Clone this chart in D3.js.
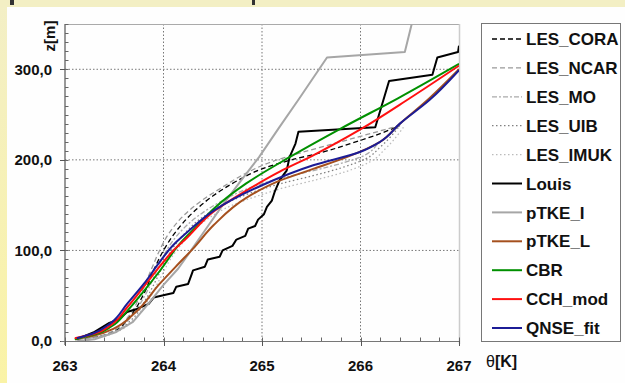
<!DOCTYPE html>
<html><head><meta charset="utf-8">
<script src="https://cdn.jsdelivr.net/npm/d3@7"></script>
<style>body{margin:0;padding:0;background:#fff;}svg{display:block;}</style>
</head><body>
<svg id="c" width="625" height="383"></svg>
<script>
// ---- data ----
const xTicks = [263, 264, 265, 266, 267];
const yTicks = [0, 100, 200, 300];
const yTickLabels = ["0,0", "100,0", "200,0", "300,0"];
const seriesNames = ["LES_CORA","LES_NCAR","LES_MO","LES_UIB","LES_IMUK","Louis","pTKE_I","pTKE_L","CBR","CCH_mod","QNSE_fit"];

// [theta K, z m]
const LES_CORA = [[263.12,1],[263.3,4],[263.5,11],[263.65,26],[263.8,52],[263.9,78],[264.0,100],[264.12,120],[264.3,142],[264.5,160],[264.75,177],[265.0,190],[265.3,200],[265.6,208],[265.9,218],[266.2,229],[266.4,238]];
const LES_NCAR = [[263.12,1],[263.3,4],[263.5,12],[263.65,28],[263.78,55],[263.88,80],[263.96,100],[264.05,118],[264.2,138],[264.4,156],[264.6,170],[264.85,186],[265.1,198],[265.4,208],[265.7,217],[266.0,226],[266.2,232],[266.4,238]];
const LES_MO = [[263.12,1],[263.3,4],[263.5,10],[263.65,24],[263.8,48],[263.92,75],[264.02,98],[264.15,118],[264.35,138],[264.6,155],[264.85,168],[265.1,177],[265.4,185],[265.7,193],[266.0,203],[266.2,220],[266.4,238]];
const LES_UIB = [[263.12,1],[263.3,4],[263.5,10],[263.67,23],[263.82,46],[263.95,73],[264.05,95],[264.2,117],[264.4,137],[264.65,153],[264.9,164],[265.2,174],[265.5,182],[265.8,191],[266.05,201],[266.2,214],[266.4,238]];
const LES_IMUK = [[263.12,1],[263.3,3],[263.5,9],[263.68,22],[263.84,44],[263.97,70],[264.08,92],[264.25,115],[264.45,135],[264.7,150],[264.95,160],[265.25,170],[265.55,178],[265.85,187],[266.1,198],[266.25,212],[266.45,238]];
const Louis = [[263.12,2],[263.3,10],[263.45,20],[263.55,24],[263.63,32],[263.72,35],[263.85,41],[263.9,48],[264.02,51],[264.1,53],[264.13,60],[264.25,63],[264.28,72],[264.3,78],[264.42,82],[264.45,90],[264.57,93],[264.6,100],[264.7,105],[264.74,112],[264.83,116],[264.86,124],[264.93,127],[264.96,134],[265.02,140],[265.05,148],[265.1,155],[265.13,165],[265.18,178],[265.25,188],[265.28,203],[265.34,218],[265.37,231],[266.15,236],[266.29,287],[266.73,294],[266.78,313],[266.99,319],[267.0,326]];
const pTKE_I = [[263.15,0],[263.3,2],[263.52,10],[263.69,21],[263.86,43],[264.0,62],[264.15,80],[264.28,100],[264.42,122],[264.6,150],[264.8,179],[264.97,203],[265.17,235],[265.38,268],[265.66,313],[266.45,319],[266.52,350]];
const pTKE_L = [[263.1,2],[263.3,6],[263.5,14],[263.7,30],[263.96,63],[264.15,85],[264.3,102],[264.51,128],[264.84,158],[265.18,177],[265.52,190],[265.86,203],[266.2,220],[266.38,238],[266.7,268],[267.0,300]];
const CBR = [[263.1,2],[263.3,7],[263.47,16],[263.63,33],[263.8,55],[263.96,77],[264.17,108],[264.35,128],[264.51,146],[264.84,174],[265.28,203],[265.79,234],[266.38,268],[267.0,306]];
const CCH_mod = [[263.1,3],[263.3,8],[263.47,18],[263.63,37],[263.8,60],[263.96,82],[264.1,100],[264.22,112],[264.51,143],[264.84,166],[265.18,187],[265.52,205],[265.99,233],[266.5,268],[267.0,304]];
const QNSE_fit = [[263.12,3],[263.29,8.5],[263.46,19.5],[263.63,41],[263.8,63],[263.96,87],[264.1,106],[264.24,120],[264.51,144],[265.0,172],[265.52,194],[266.0,209],[266.2,220],[266.4,240],[266.7,266],[267.0,299]];

const seriesData = [LES_CORA, LES_NCAR, LES_MO, LES_UIB, LES_IMUK, Louis, pTKE_I, pTKE_L, CBR, CCH_mod, QNSE_fit];

// ---- styles ----
const styles = {
  LES_CORA:{c:"#000",w:1.3,d:"5,3",curve:true},
  LES_NCAR:{c:"#999",w:1.3,d:"5,3",curve:true},
  LES_MO:{c:"#aaa",w:1.3,d:"5,2,2,2",curve:true},
  LES_UIB:{c:"#808080",w:1.3,d:"1.5,2.5",curve:true},
  LES_IMUK:{c:"#bbb",w:1.3,d:"1.5,2.5",curve:true},
  Louis:{c:"#000",w:2,d:null,curve:false},
  pTKE_I:{c:"#a6a6a6",w:2,d:null,curve:false},
  pTKE_L:{c:"#a5501e",w:2,d:null,curve:true},
  CBR:{c:"#009000",w:2,d:null,curve:true},
  CCH_mod:{c:"#ff1010",w:2,d:null,curve:true},
  QNSE_fit:{c:"#1c1c96",w:2,d:null,curve:true}
};

const svg = d3.select("#c");
// background
const defs = svg.append("defs");
const g1 = defs.append("linearGradient").attr("id","lg").attr("x1",0).attr("y1",0).attr("x2",0).attr("y2",1);
g1.append("stop").attr("offset","0%").attr("stop-color","#f3efc6");
g1.append("stop").attr("offset","100%").attr("stop-color","#faf3a6");
svg.append("rect").attr("x",0).attr("y",0).attr("width",625).attr("height",383).attr("fill","url(#lg)");
svg.append("rect").attr("x",0).attr("y",0).attr("width",625).attr("height",7).attr("fill","#f3efc4");
svg.append("rect").attr("x",7).attr("y",7).attr("width",618).attr("height",376).attr("fill","#fefefe");
svg.append("rect").attr("x",10).attr("y",0).attr("width",4).attr("height",5).attr("fill","#333");
svg.append("rect").attr("x",252).attr("y",0).attr("width",3).attr("height",5).attr("fill","#333");

const x = d3.scaleLinear().domain([263,267]).range([65,459]);
const y = d3.scaleLinear().domain([0,350]).range([341,24]);

// grid
const grid = svg.append("g");
[264,265,266].forEach(v=>grid.append("line").attr("x1",x(v)).attr("x2",x(v)).attr("y1",y(350)).attr("y2",y(0))
  .attr("stroke","#777").attr("stroke-width",1).attr("stroke-dasharray","1.5,2"));
[100,200,300].forEach(v=>grid.append("line").attr("x1",x(263)).attr("x2",x(267)).attr("y1",y(v)).attr("y2",y(v))
  .attr("stroke","#777").attr("stroke-width",1).attr("stroke-dasharray","1.5,2"));

// frame
svg.append("line").attr("x1",x(263)).attr("x2",x(267)).attr("y1",y(350)+0.5).attr("y2",y(350)+0.5).attr("stroke","#aaa");
svg.append("line").attr("x1",x(267)+0.5).attr("x2",x(267)+0.5).attr("y1",y(350)).attr("y2",y(0)+3).attr("stroke","#ccc").attr("stroke-width",1.5);

// clip
defs.append("clipPath").attr("id","pc").append("rect").attr("x",x(263)).attr("y",y(350)).attr("width",x(267)-x(263)).attr("height",y(0)-y(350));

const lineCurve = d3.line().x(d=>x(d[0])).y(d=>y(d[1])).curve(d3.curveMonotoneY);
const lineLin = d3.line().x(d=>x(d[0])).y(d=>y(d[1]));
const plot = svg.append("g").attr("clip-path","url(#pc)");
seriesNames.forEach((n,i)=>{
  const s = styles[n];
  plot.append("path").attr("d",(s.curve?lineCurve:lineLin)(seriesData[i]))
    .attr("fill","none").attr("stroke",s.c).attr("stroke-width",s.w)
    .attr("stroke-dasharray",s.d).attr("stroke-linejoin","round");
});

// axes
const yMinor = d3.range(0,351,10);
const yAx = svg.append("g").attr("transform",`translate(${x(263)},0)`);
yAx.append("line").attr("x1",0).attr("x2",0).attr("y1",y(350)).attr("y2",y(0)+4).attr("stroke","#555").attr("stroke-width",1.2);
yMinor.forEach(v=>yAx.append("line").attr("x1",0).attr("x2",3.5).attr("y1",Math.round(y(v))+0.5).attr("y2",Math.round(y(v))+0.5).attr("stroke","#666"));
yTicks.forEach((v,i)=>{
  yAx.append("line").attr("x1",-5).attr("x2",0).attr("y1",Math.round(y(v))+0.5).attr("y2",Math.round(y(v))+0.5).attr("stroke","#555");
  yAx.append("text").attr("x",-13).attr("y",y(v)).attr("dy","0.35em").attr("text-anchor","end")
    .attr("font-family","Liberation Sans, Arial, sans-serif").attr("font-weight","bold").attr("font-size",15).attr("fill","#111").text(yTickLabels[i]);
});
const xAx = svg.append("g");
xAx.append("line").attr("x1",x(263)-4).attr("x2",x(267)).attr("y1",y(0)+0.5).attr("y2",y(0)+0.5).attr("stroke","#777").attr("stroke-width",1.2);
d3.range(263,267.001,0.2).forEach(v=>xAx.append("line").attr("x1",Math.round(x(v))+0.5).attr("x2",Math.round(x(v))+0.5).attr("y1",y(0)).attr("y2",y(0)-3.5).attr("stroke","#666"));
xTicks.forEach(v=>{
  xAx.append("line").attr("x1",Math.round(x(v))+0.5).attr("x2",Math.round(x(v))+0.5).attr("y1",y(0)).attr("y2",y(0)+5).attr("stroke","#555");
  xAx.append("text").attr("x",x(v)).attr("y",366).attr("dy","0.35em").attr("text-anchor","middle")
    .attr("font-family","Liberation Sans, Arial, sans-serif").attr("font-weight","bold").attr("font-size",15).attr("fill","#111").text(v);
});
// axis titles
const xt = svg.append("text").attr("x",486).attr("y",367).attr("font-family","Liberation Sans, Arial, sans-serif").attr("font-size",16).attr("fill","#111");
xt.append("tspan").text("θ");
xt.append("tspan").attr("font-weight","bold").text("[K]");
svg.append("text").attr("transform","translate(55,36) rotate(-90)").attr("text-anchor","middle")
  .attr("font-family","Liberation Sans, Arial, sans-serif").attr("font-weight","bold").attr("font-size",15).attr("fill","#111").text("z[m]");

// legend
const lg = svg.append("g");
lg.append("rect").attr("x",481.5).attr("y",23.5).attr("width",139).attr("height",318).attr("fill","#fff").attr("stroke","#777").attr("stroke-width",1);
seriesNames.forEach((n,i)=>{
  const s = styles[n];
  const yy = 39 + i*28.9;
  lg.append("line").attr("x1",492).attr("x2",522).attr("y1",yy).attr("y2",yy).attr("stroke",s.c).attr("stroke-width",s.w).attr("stroke-dasharray",s.d);
  lg.append("text").attr("x",526).attr("y",yy).attr("dy","0.36em").attr("font-family","Liberation Sans, Arial, sans-serif")
    .attr("font-weight","bold").attr("font-size",17).attr("fill","#111").text(n);
});
</script>
</body></html>
